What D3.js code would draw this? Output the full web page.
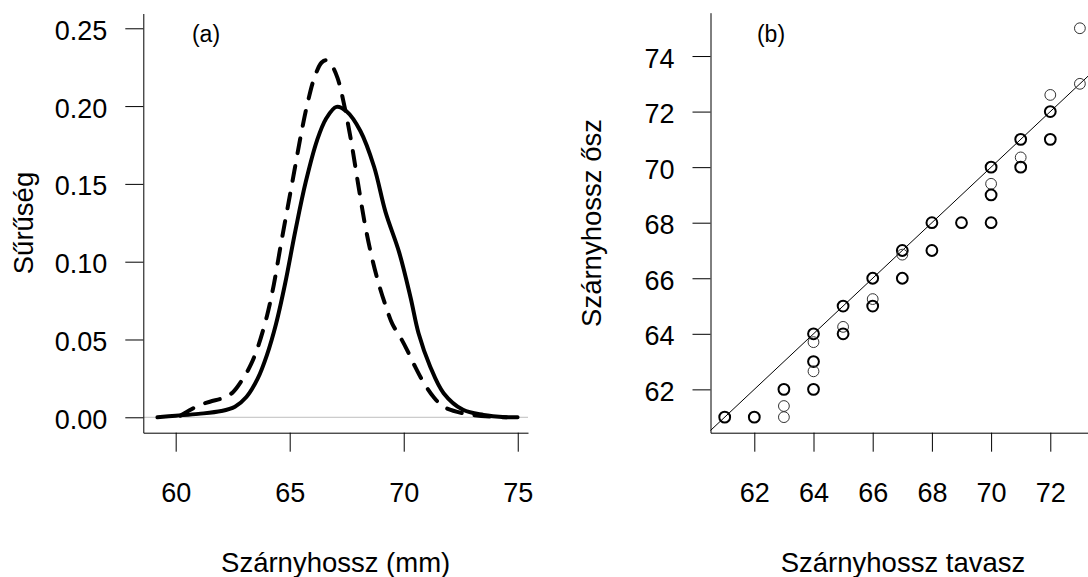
<!DOCTYPE html>
<html>
<head>
<meta charset="utf-8">
<script src="https://cdn.jsdelivr.net/npm/d3@7"></script>
<style>
  html, body { margin: 0; padding: 0; background: #fff; }
  svg { display: block; font-family: "Liberation Sans", Arial, sans-serif; }
</style>
</head>
<body>
<svg id="chart" width="1088" height="577"></svg>
<script>
// ---- Panel (a): kernel density of wing length ----
// spring (tavasz) – solid
const springDensX = [59.2, 60.0, 61.0, 62.0, 62.6, 63.1, 63.6, 64.0, 64.4, 64.8, 65.25, 65.7, 66.2, 66.6, 67.05, 67.5, 68.1, 68.7, 69.2, 69.8, 70.3, 70.65, 71.15, 71.75, 72.6, 73.5, 74.5];
const springDensY = [0.0000, 0.0010, 0.0022, 0.0040, 0.0068, 0.0130, 0.0250, 0.0400, 0.0600, 0.0860, 0.1200, 0.1510, 0.1780, 0.1920, 0.1995, 0.1965, 0.1840, 0.1610, 0.1320, 0.1060, 0.0770, 0.0540, 0.0330, 0.0155, 0.0048, 0.0015, 0.0000];
// autumn (ősz) – dashed
const autumnDensX = [60.2, 60.5, 61.0, 61.5, 62.1, 62.5, 63.0, 63.3, 63.6, 64.0, 64.3, 64.6, 64.9, 65.2, 65.5, 65.8, 66.1, 66.4, 66.6, 66.85, 67.1, 67.4, 67.7, 68.0, 68.3, 68.6, 68.9, 69.2, 69.5, 69.85, 70.15, 70.5, 70.85, 71.3, 71.75, 72.6, 73.8, 75.5];
const autumnDensY = [0.0010, 0.0036, 0.0075, 0.0100, 0.0125, 0.0160, 0.0260, 0.0340, 0.0450, 0.0650, 0.0850, 0.1100, 0.1340, 0.1580, 0.1820, 0.2030, 0.2190, 0.2280, 0.2295, 0.2260, 0.2180, 0.2000, 0.1770, 0.1500, 0.1240, 0.1030, 0.0860, 0.0720, 0.0600, 0.0515, 0.0432, 0.0325, 0.0229, 0.0132, 0.0068, 0.0026, 0.0004, 0.0000];
const densXTicks = [60, 65, 70, 75];
const densYTicks = [0.00, 0.05, 0.10, 0.15, 0.20, 0.25];
const densXDomain = [58.58, 75.45];
const densYDomain = [-0.0099, 0.2595];

// ---- Panel (b): spring vs autumn wing length ----
const springWing = [61, 62, 63, 63, 63, 64, 64, 64, 64, 64, 65, 65, 65, 66, 66, 66, 67, 67, 67, 68, 68, 69, 70, 70, 70, 70, 71, 71, 71, 72, 72, 72, 73, 73];
const autumnWing = [61, 61, 62, 61.4, 61, 64, 63.7, 63, 62.65, 62, 65, 64.25, 64, 66, 65.25, 65, 67, 66.85, 66, 68, 67, 68, 70, 69.4, 69, 68, 71, 70.35, 70, 72.6, 72, 71, 75, 73];
const pointCount = [2, 2, 2, 1, 1, 2, 1, 2, 1, 2, 2, 1, 2, 2, 1, 2, 2, 1, 2, 2, 2, 2, 2, 1, 2, 2, 2, 1, 2, 1, 2, 2, 1, 1];
const scatXTicks = [62, 64, 66, 68, 70, 72];
const scatYTicks = [62, 64, 66, 68, 70, 72, 74];
const scatXDomain = [60.52, 73.48];
const scatYDomain = [60.44, 75.56];
const refLine = [0, 1]; // intercept, slope (y = x)

const labelA = "(a)", labelB = "(b)";
const titleAX = "Szárnyhossz (mm)", titleAY = "Sűrűség";
const titleBX = "Szárnyhossz tavasz", titleBY = "Szárnyhossz ősz";

// ---------------------------------------------------------------
const svg = d3.select("#chart");
const TICK_FONT = 27, TITLE_FONT = 27.5, PANEL_FONT = 23;

function styleAxis(g, orient) {
  g.select(".domain").attr("stroke", "#000").attr("stroke-width", 1);
  g.selectAll(".tick line").attr("stroke", "#000").attr("stroke-width", 1);
  g.selectAll(".tick text").attr("fill", "#000").style("font-size", TICK_FONT + "px")
    .style("font-family", '"Liberation Sans", Arial, sans-serif');
  if (orient === "bottom") {
    g.selectAll(".tick text").attr("y", 69.5).attr("dy", null);
  } else {
    g.selectAll(".tick text").attr("x", -36).attr("dy", null).attr("y", 11);
  }
}

// ---- Panel A ----
const xA = d3.scaleLinear().domain(densXDomain).range([143.3, 528]);
const yA = d3.scaleLinear().domain(densYDomain).range([432.7, 13.5]);

svg.append("line")
  .attr("x1", xA(densXDomain[0])).attr("x2", xA(densXDomain[1]))
  .attr("y1", yA(0)).attr("y2", yA(0))
  .attr("stroke", "#bebebe").attr("stroke-width", 1);

const gAx = svg.append("g").attr("transform", `translate(0,${yA.range()[0]})`)
  .call(d3.axisBottom(xA).tickValues(densXTicks).tickSize(19).tickSizeOuter(0).tickFormat(d3.format("d")));
styleAxis(gAx, "bottom");
const gAy = svg.append("g").attr("transform", `translate(${xA.range()[0]},0)`)
  .call(d3.axisLeft(yA).tickValues(densYTicks).tickSize(18).tickSizeOuter(0).tickFormat(d3.format(".2f")));
styleAxis(gAy, "left");

const lineA = d3.line().x(d => xA(d[0])).y(d => yA(d[1])).curve(d3.curveCatmullRom.alpha(0.5));
svg.append("path")
  .datum(d3.zip(springDensX, springDensY))
  .attr("d", lineA).attr("fill", "none").attr("stroke", "#000")
  .attr("stroke-width", 4).attr("stroke-linecap", "round").attr("stroke-linejoin", "round");
svg.append("path")
  .datum(d3.zip(autumnDensX, autumnDensY))
  .attr("d", lineA).attr("fill", "none").attr("stroke", "#000")
  .attr("stroke-width", 4).attr("stroke-linecap", "round").attr("stroke-linejoin", "round")
  .attr("stroke-dasharray", "15,13");

svg.append("text").attr("x", 206).attr("y", 42).attr("text-anchor", "middle")
  .style("font-size", PANEL_FONT + "px").text(labelA);
svg.append("text").attr("x", (xA(densXDomain[0]) + xA(densXDomain[1])) / 2).attr("y", 572)
  .attr("text-anchor", "middle").style("font-size", TITLE_FONT + "px").text(titleAX);
svg.append("text").attr("transform", "translate(33,223) rotate(-90)")
  .attr("text-anchor", "middle").style("font-size", TITLE_FONT + "px").text(titleAY);

// ---- Panel B ----
const xB = d3.scaleLinear().domain(scatXDomain).range([710.5, 1094.1]);
const yB = d3.scaleLinear().domain(scatYDomain).range([432.7, 12.7]);

const gBx = svg.append("g").attr("transform", `translate(0,${yB.range()[0]})`)
  .call(d3.axisBottom(xB).tickValues(scatXTicks).tickSize(19).tickSizeOuter(0).tickFormat(d3.format("d")));
styleAxis(gBx, "bottom");
const gBy = svg.append("g").attr("transform", `translate(${xB.range()[0]},0)`)
  .call(d3.axisLeft(yB).tickValues(scatYTicks).tickSize(18).tickSizeOuter(0).tickFormat(d3.format("d")));
styleAxis(gBy, "left");

svg.append("line")
  .attr("x1", xB(scatXDomain[0])).attr("y1", yB(refLine[0] + refLine[1] * scatXDomain[0]))
  .attr("x2", xB(scatXDomain[1])).attr("y2", yB(refLine[0] + refLine[1] * scatXDomain[1]))
  .attr("stroke", "#000").attr("stroke-width", 1);

const pts = springWing.map((s, i) => ({ x: s, y: autumnWing[i], n: pointCount[i] }));
svg.append("g").selectAll("circle").data(pts).join("circle")
  .attr("cx", d => xB(d.x)).attr("cy", d => yB(d.y)).attr("r", 5.4)
  .attr("fill", "none")
  .attr("stroke", d => d.n > 1 ? "#000" : "#333")
  .attr("stroke-width", d => d.n > 1 ? 2 : 1);

svg.append("text").attr("x", 771).attr("y", 42).attr("text-anchor", "middle")
  .style("font-size", PANEL_FONT + "px").text(labelB);
svg.append("text").attr("x", 903).attr("y", 572)
  .attr("text-anchor", "middle").style("font-size", TITLE_FONT + "px").text(titleBX);
svg.append("text").attr("transform", "translate(601,223) rotate(-90)")
  .attr("text-anchor", "middle").style("font-size", TITLE_FONT + "px").text(titleBY);
</script>
</body>
</html>
